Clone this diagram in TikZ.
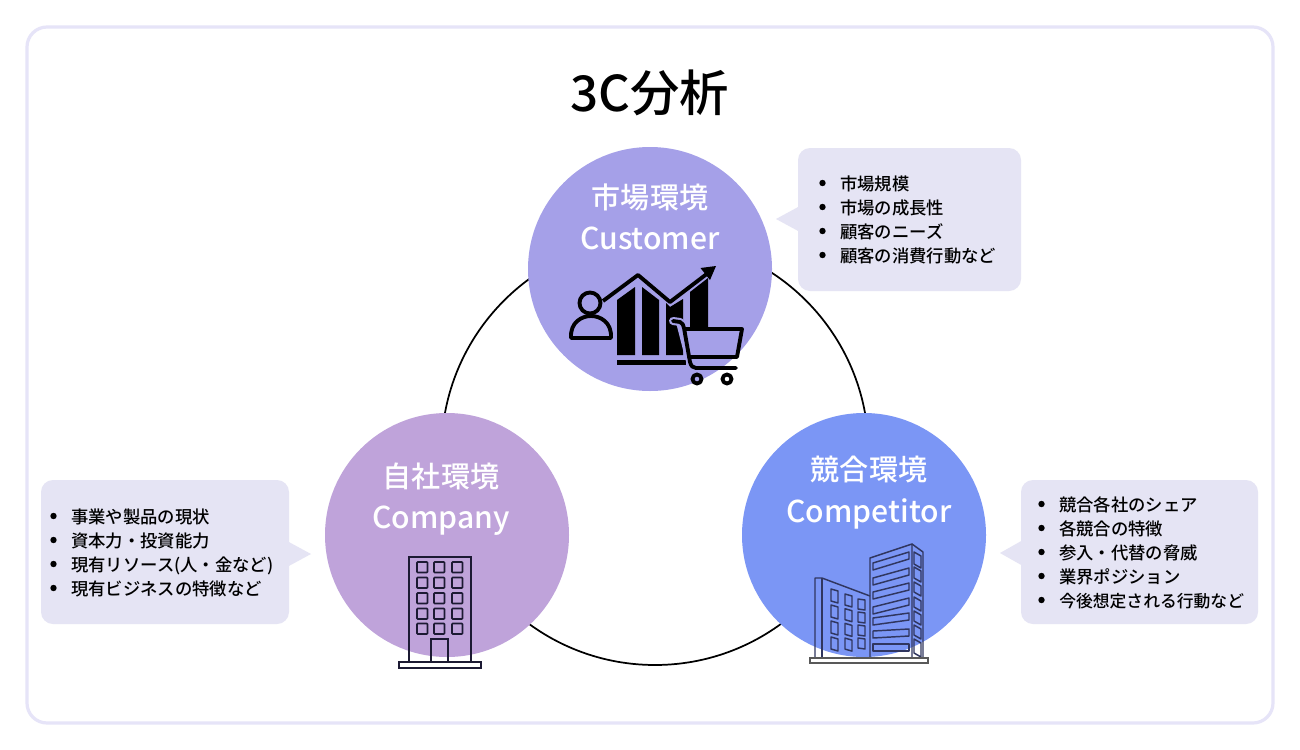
\documentclass[tikz,border=0pt]{standalone}
\usepackage{fontspec}
\setmainfont{Noto Sans CJK JP Medium}
\usepackage{tikz}
\definecolor{framecol}{HTML}{E6E4F8}
\definecolor{notecol}{HTML}{E5E4F4}
\definecolor{customercol}{HTML}{A5A0E8}
\definecolor{companycol}{HTML}{BFA3DA}
\definecolor{competitorcol}{HTML}{7B96F5}
\definecolor{officeline}{HTML}{1C1A33}
\definecolor{towerline}{HTML}{30365F}
\tikzset{
  bigcircle/.style={circle,inner sep=0pt,minimum size=183pt},
  headtext/.style={text=white,font=\fontsize{22.6}{26}\selectfont,inner sep=0pt,text height=16pt,text depth=4pt},
  headja/.style={headtext,font=\fontsize{21.8}{26}\selectfont},
  notebox/.style={fill=notecol,rounded corners=9pt,inner sep=0pt},
  notetext/.style={anchor=west,inner sep=0pt,font=\fontsize{13}{15}\selectfont,text height=10pt,text depth=2.5pt},
  iconline/.style={line width=2.9pt,line join=round,line cap=round},
  officedraw/.style={draw=officeline,line width=1.2pt},
  towerdraw/.style={draw=towerline,line width=1.1pt,line join=round},
}
\begin{document}
\begin{tikzpicture}[x=0.75pt,y=0.75pt]
    \useasboundingbox (0,0) rectangle (1300,-750);
    \fill [white] (0,0) rectangle (1300,-750);
    \draw [framecol,line width=2.4pt,rounded corners=15pt,fill=white] (27,-27) rectangle (1273,-723);
    \node (title) [inner sep=0pt,font=\fontsize{37}{42}\selectfont] at (650,-93) {3C分析};
    % ring behind the three circles
    \draw [black,line width=1.3pt] (655,-451.5) circle (213.5);
    \node (customer) [bigcircle,fill=customercol] at (650,-269) {};
    \node (company) [bigcircle,fill=companycol] at (447,-535) {};
    \node (competitor) [bigcircle,fill=competitorcol] at (864,-535) {};
    \node (customerja) [headja] at (650,-200) {市場環境};
    \node (customeren) [headtext] at (650,-241) {Customer};
    \node (companyja) [headja] at (441,-479) {自社環境};
    \node (companyen) [headtext] at (441,-520) {Company};
    \node (competitorja) [headja] at (869,-472) {競合環境};
    \node (competitoren) [headtext] at (869,-514) {Competitor};
    % notes
    \node (customernote) [notebox,minimum width=167.25pt,minimum height=107.25pt] at (909.5,-219.5) {};
    \fill [notecol] (800,-206) -- (776,-219) -- (800,-232);
    \node (companynote) [notebox,minimum width=186pt,minimum height=108pt] at (165,-552) {};
    \fill [notecol] (287,-541) -- (311,-554) -- (287,-567);
    \node (competitornote) [notebox,minimum width=177.75pt,minimum height=108pt] at (1139.5,-552) {};
    \fill [notecol] (1023,-540) -- (1000,-553) -- (1023,-566);
    \foreach \ty/\txt [count=\i] in {183/市場規模,207/市場の成長性,231/顧客のニーズ,255/顧客の消費行動など} {
        \fill [black] (822.5,-\ty) circle (3.2);
        \node (customerline\i) [notetext] at (840,-\ty-2) {\txt};
    }
    \foreach \ty/\txt [count=\i] in {516/事業や製品の現状,540/資本力・投資能力,564/現有リソース(人・金など),588/現有ビジネスの特徴など} {
        \fill [black] (53.5,-\ty) circle (3.2);
        \node (companyline\i) [notetext] at (71,-\ty-2) {\txt};
    }
    \foreach \ty/\txt [count=\i] in {504/競合各社のシェア,528/各競合の特徴,552/参入・代替の脅威,576/業界ポジション,600/{\fontsize{12.6}{15}\selectfont 今後想定される行動など}} {
        \fill [black] (1041.5,-\ty) circle (3.2);
        \node (competitorline\i) [notetext] at (1059,-\ty-2) {\txt};
    }
    % market icon
    \draw [iconline] (590,-303) circle (10.5);
    \draw [iconline] (571,-338) .. controls (570,-322) and (582,-316) .. (591,-316) .. controls (600,-316) and (612,-322) .. (611,-338) -- cycle;
    \draw [iconline,line cap=butt] (603,-301) -- (638,-275) -- (670,-302) -- (708,-273);
    \fill [black] (716,-266) -- (700.5,-268) -- (710,-280) -- cycle;
    \fill [black] (617,-300) -- (635,-287) -- (635,-355) -- (617,-355) -- cycle;
    \fill [black] (642,-287) -- (659,-300) -- (659,-355) -- (642,-355) -- cycle;
    \fill [black] (666,-303) -- (670,-307) -- (683,-299) -- (683,-355) -- (666,-355) -- cycle;
    \fill [black] (690,-292) -- (708,-278) -- (708,-328) -- (690,-328) -- cycle;
    \fill [black] (617,-360) rectangle (686,-364.5);
    % halo of the cart over the bars
    \draw [customercol,line width=6pt,line cap=round,line join=round] (673,-321) -- (680,-322) -- (690,-361);
    \fill [customercol] (685,-329) -- (742,-329) -- (737,-357) -- (689,-357) -- cycle;
    \draw [iconline] (673,-321) -- (680,-322) .. controls (683,-323) and (683,-325) .. (684,-328) -- (690,-362) .. controls (691,-366) and (693,-368) .. (696,-368) -- (736,-368);
    \draw [iconline] (685,-329) -- (742,-329) -- (737,-357) -- (689,-357);
    \draw [iconline] (697,-379) circle (4.5);
    \draw [iconline] (727,-379) circle (4.5);
    % office icon
    \draw [officedraw] (409,-662) -- (409,-557) -- (471,-557) -- (471,-662);
    \foreach \wy in {562,577.5,593,608.5,623.5} {
        \foreach \wx in {417,434,452} {
            \draw [officedraw,rounded corners=0.6pt] (\wx,-\wy) rectangle ++(10.5,-10.5);
        }
    }
    \draw [officedraw] (431,-662) -- (431,-639) -- (448,-639) -- (448,-662);
    \draw [officedraw,fill=white] (399,-662) rectangle (481,-668);
    % tower icon
    \draw [towerdraw] (815,-658) -- (815,-578) -- (822,-578) -- (870,-596);
    \draw [towerdraw] (822,-578) -- (822,-658);
    \foreach \wx/\wa/\wb/\wh in {831/589/591/12,845/594/596/11,858/599/600/10} {
        \foreach \wr in {0,1,2,3} {
            \pgfmathsetmacro{\wk}{(\wa==589 ? 16 : (\wa==594 ? 14.7 : 13))}
            \draw [towerdraw] (\wx,-\wa-\wr*\wk) -- (\wx+7,-\wb-\wr*\wk) -- (\wx+7,-\wb-\wr*\wk-\wh) -- (\wx,-\wa-\wr*\wk-\wh) -- cycle;
        }
    }
    \draw [towerdraw] (870,-658) -- (870,-558) -- (912,-544) -- (912,-658);
    \draw [towerdraw] (912,-544) -- (923,-552) -- (923,-658);
    \foreach \la/\ra in {563/552,578/568,592/583,607/598,618/613,631/629,644/644} {
        \draw [towerdraw] (873,-\la) -- (909,-\ra) -- (909,-\ra-7) -- (873,-\la-7) -- cycle;
    }
    \foreach \sa/\sh in {552/12,567/11,582/10,597/10,611/10,625/10,639/14} {
        \draw [towerdraw] (914,-\sa) -- (921,-\sa-4) -- (921,-\sa-4-\sh) -- (914,-\sa-\sh) -- cycle;
    }
    \draw [draw=black!65,line width=1.1pt,fill=white] (810,-658) rectangle (928,-663);
\end{tikzpicture}
\end{document}
